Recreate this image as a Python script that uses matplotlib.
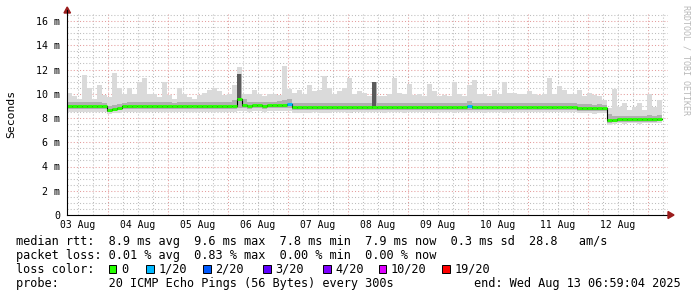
import numpy as np
import matplotlib
matplotlib.use('Agg')
import matplotlib.pyplot as plt
from matplotlib.patches import Rectangle, Polygon
from matplotlib.ticker import FuncFormatter, MultipleLocator

W, H = 697, 297
MONO = 'DejaVu Sans Mono'

# ---------------- data ----------------
bin_start_hour = 7.6      # hours after 03 Aug 00:00
bin_hours = 2.0

smoke_max = [10.05, 9.8, 9.6, 11.55, 10.5, 9.6, 10.7, 9.9, 9.7, 11.7,
             10.5, 10.0, 10.5, 10.0, 11.0, 11.3, 10.0, 10.0, 9.7, 11.0,
             9.9, 9.6, 10.5, 10.0, 9.7, 9.6, 9.9, 10.1, 10.3, 10.5,
             10.2, 9.9, 10.0, 10.7, 12.2, 10.0, 10.0, 10.3, 10.0, 9.8,
             10.0, 10.0, 9.9, 12.3, 10.4, 10.1, 10.3, 10.0, 10.7, 10.2,
             10.3, 11.5, 10.5, 10.0, 10.2, 10.5, 11.3, 10.0, 10.2, 10.1,
             9.8, 11.0, 9.8, 9.8, 10.0, 11.3, 10.1, 10.0, 10.8, 9.9,
             10.0, 9.8, 10.8, 10.2, 9.8, 9.9, 9.8, 11.0, 10.0, 9.8,
             10.7, 11.1, 10.0, 10.0, 9.8, 10.3, 10.0, 11.0, 10.1, 10.1,
             10.0, 10.0, 10.2, 10.0, 9.9, 10.0, 11.3, 10.0, 10.6, 10.3,
             10.0, 10.0, 10.3, 9.8, 10.1, 9.9, 9.8, 9.5, 8.8, 10.4,
             8.9, 9.2, 8.7, 8.9, 9.2, 8.7, 10.0, 8.9, 9.5]

smoke_p75 = [9.3, 9.3, 9.28, 9.35, 9.3, 9.28, 9.32, 9.27, 9.0, 9.05,
             9.15, 9.25, 9.3, 9.3, 9.35, 9.35, 9.3, 9.28, 9.3, 9.32,
             9.3, 9.27, 9.3, 9.3, 9.3, 9.32, 9.3, 9.3, 9.32, 9.3,
             9.3, 9.3, 9.3, 9.5, 11.6, 9.6, 9.35, 9.35, 9.35, 9.33,
             9.35, 9.35, 9.38, 9.5, 9.6, 9.25, 9.22, 9.2, 9.25, 9.22,
             9.2, 9.25, 9.22, 9.22, 9.22, 9.25, 9.25, 9.22, 9.22, 9.22,
             9.22, 11.0, 9.22, 9.2, 9.22, 9.25, 9.22, 9.2, 9.25, 9.22,
             9.22, 9.22, 9.25, 9.2, 9.22, 9.22, 9.22, 9.25, 9.22, 9.22,
             9.4, 9.25, 9.22, 9.2, 9.22, 9.22, 9.22, 9.25, 9.22, 9.22,
             9.23, 9.23, 9.22, 9.23, 9.22, 9.23, 9.25, 9.22, 9.25, 9.23,
             9.23, 9.23, 9.12, 9.12, 9.12, 9.1, 9.12, 9.1, 8.3, 8.2,
             8.2, 8.18, 8.2, 8.2, 8.18, 8.2, 8.22, 8.2, 8.22]

median = [9.0, 9.0, 8.98, 9.0, 9.0, 8.98, 9.0, 8.97, 8.65, 8.72,
          8.85, 8.95, 9.0, 9.0, 9.02, 9.0, 9.0, 8.98, 9.0, 9.0,
          9.0, 8.97, 9.0, 9.0, 9.0, 9.02, 9.0, 9.0, 9.0, 8.98,
          9.0, 9.0, 9.0, 9.02, 9.6, 9.05, 9.03, 9.05, 9.05, 9.03,
          9.05, 9.05, 9.08, 9.08, 9.12, 8.9, 8.9, 8.88, 8.9, 8.92,
          8.9, 8.88, 8.9, 8.92, 8.92, 8.92, 8.9, 8.92, 8.92, 8.92,
          8.92, 8.92, 8.92, 8.9, 8.92, 8.92, 8.92, 8.9, 8.92, 8.92,
          8.92, 8.92, 8.92, 8.9, 8.92, 8.92, 8.92, 8.9, 8.92, 8.92,
          8.95, 8.92, 8.92, 8.9, 8.92, 8.92, 8.92, 8.9, 8.92, 8.92,
          8.93, 8.93, 8.92, 8.93, 8.92, 8.93, 8.93, 8.92, 8.93, 8.93,
          8.93, 8.93, 8.82, 8.82, 8.82, 8.8, 8.82, 8.82, 7.82, 7.85,
          7.9, 7.88, 7.9, 7.9, 7.88, 7.9, 7.9, 7.9, 7.92]

smoke_p25 = [8.75, 8.75, 8.73, 8.75, 8.75, 8.73, 8.75, 8.72, 8.5, 8.55,
             8.65, 8.72, 8.75, 8.75, 8.77, 8.75, 8.75, 8.73, 8.75, 8.75,
             8.75, 8.72, 8.75, 8.75, 8.75, 8.77, 8.75, 8.75, 8.75, 8.73,
             8.75, 8.75, 8.75, 8.77, 8.85, 8.8, 8.78, 8.8, 8.8, 8.78,
             8.8, 8.8, 8.82, 8.82, 8.85, 8.67, 8.67, 8.65, 8.67, 8.68,
             8.67, 8.65, 8.67, 8.68, 8.68, 8.68, 8.67, 8.68, 8.68, 8.68,
             8.68, 8.68, 8.68, 8.67, 8.68, 8.68, 8.68, 8.67, 8.68, 8.68,
             8.68, 8.68, 8.68, 8.67, 8.68, 8.68, 8.68, 8.67, 8.68, 8.68,
             8.7, 8.68, 8.68, 8.67, 8.68, 8.68, 8.68, 8.67, 8.68, 8.68,
             8.69, 8.69, 8.68, 8.69, 8.68, 8.69, 8.69, 8.68, 8.69, 8.69,
             8.69, 8.69, 8.6, 8.6, 8.6, 8.58, 8.6, 8.6, 7.62, 7.65,
             7.7, 7.68, 7.7, 7.7, 7.68, 7.7, 7.7, 7.7, 7.72]

smoke_min = [8.5, 8.5, 8.48, 8.5, 8.5, 8.48, 8.5, 8.47, 8.35, 8.38,
             8.42, 8.48, 8.5, 8.5, 8.52, 8.5, 8.5, 8.48, 8.5, 8.5,
             8.5, 8.47, 8.5, 8.5, 8.5, 8.52, 8.5, 8.5, 8.5, 8.48,
             8.5, 8.5, 8.5, 8.52, 8.55, 8.55, 8.53, 8.55, 8.55, 8.53,
             8.55, 8.55, 8.57, 8.57, 8.6, 8.45, 8.45, 8.43, 8.45, 8.47,
             8.45, 8.43, 8.45, 8.47, 8.47, 8.47, 8.45, 8.47, 8.47, 8.47,
             8.47, 8.47, 8.47, 8.45, 8.47, 8.47, 8.47, 8.45, 8.47, 8.47,
             8.47, 8.47, 8.47, 8.45, 8.47, 8.47, 8.47, 8.45, 8.47, 8.47,
             8.5, 8.47, 8.47, 8.45, 8.47, 8.47, 8.47, 8.45, 8.47, 8.47,
             8.48, 8.48, 8.47, 8.48, 8.47, 8.48, 8.48, 8.47, 8.48, 8.48,
             8.48, 8.48, 8.38, 8.38, 8.38, 8.35, 8.38, 8.38, 7.45, 7.5,
             7.55, 7.53, 7.55, 7.55, 7.53, 7.55, 7.55, 7.55, 7.57]

loss = [0, 0, 0, 0, 0, 0, 0, 0, 0, 0,
        0, 0, 0, 0, 0, 0, 0, 0, 0, 0,
        0, 0, 0, 0, 0, 0, 0, 0, 0, 0,
        0, 0, 0, 0, 0, 0, 0, 0, 0, 0,
        0, 0, 0, 0, 1, 0, 0, 0, 0, 0,
        0, 0, 0, 0, 0, 0, 0, 0, 0, 0,
        0, 0, 0, 0, 0, 0, 0, 0, 0, 0,
        0, 0, 0, 0, 0, 0, 0, 0, 0, 0,
        1, 0, 0, 0, 0, 0, 0, 0, 0, 0,
        0, 0, 0, 0, 0, 0, 0, 0, 0, 0,
        0, 0, 0, 0, 0, 0, 0, 0, 0, 0,
        0, 0, 0, 0, 0, 0, 0, 0, 0]

day_labels = ['03 Aug', '04 Aug', '05 Aug', '06 Aug', '07 Aug',
              '08 Aug', '09 Aug', '10 Aug', '11 Aug', '12 Aug']
y_tick_values = [0, 2, 4, 6, 8, 10, 12, 14, 16]
y_tick_labels = ['0', '2 m', '4 m', '6 m', '8 m', '10 m', '12 m', '14 m', '16 m']

loss_legend_counts = [0, 1, 2, 3, 4, 10, 19]
loss_legend_labels = ['0', '1/20', '2/20', '3/20', '4/20', '10/20', '19/20']
loss_legend_colors = ['#26ff00', '#00b8ff', '#0059ff', '#5e00ff', '#7e00ff', '#dd00ff', '#ff0000']

line1 = 'median rtt:  8.9 ms avg  9.6 ms max  7.8 ms min  7.9 ms now  0.3 ms sd  28.8   am/s'
line2 = 'packet loss: 0.01 % avg  0.83 % max  0.00 % min  0.00 % now'
line3 = 'loss color:'
line4 = 'probe:       20 ICMP Echo Pings (56 Bytes) every 300s'
end_text = 'end: Wed Aug 13 06:59:04 2025'
watermark = 'RRDTOOL / TOBI OETIKER'
y_title = 'Seconds'

# ---------------- layout helpers ----------------
def fx(x):
    return x / W

def fy(y):
    return 1 - y / H

fig = plt.figure(figsize=(W / 100, H / 100), dpi=100)
fig.patch.set_facecolor('white')

L, R, B, T = 67, 668, 215, 14
ax = fig.add_axes([fx(L), fy(B), (R - L) / W, (B - T) / H])
ax.set_facecolor('white')

n = len(median)
edges = bin_start_hour + bin_hours * np.arange(n + 1)

def ext(a):
    a = np.asarray(a, dtype=float)
    return np.append(a, a[-1])

med = np.asarray(median, dtype=float)
p75 = np.asarray(smoke_p75, dtype=float)
ax.fill_between(edges, ext(smoke_min), ext(smoke_max), step='post',
                color='#dadada', lw=0, zorder=2)
ax.fill_between(edges, ext(smoke_p25), ext(smoke_p75), step='post',
                color='#b0b0b0', lw=0, zorder=3)
# bins where most pings were high: darker smoke
dense = (p75 - med) > 1.0
ax.bar(edges[:-1][dense], (p75 - med)[dense], bottom=med[dense],
       width=bin_hours * 0.8, align='edge', color='#5a5a5a', lw=0, zorder=3.5)
ax.fill_between(edges, ext(med - 0.14), ext(med), step='post',
                color='#6a6a6a', lw=0, zorder=4)
ax.step(edges, ext(median), where='post', color='black', lw=0.8, zorder=5)
cmap = dict(zip(loss_legend_counts, loss_legend_colors))
ax.hlines(median, edges[:-1], edges[1:], colors=[cmap[v] for v in loss],
          lw=2.1, zorder=6)

ax.set_xlim(bin_start_hour, bin_start_hour + (R - L) * 0.4)
ax.set_ylim(0, (B - T) / 12.125)

# grid
dot = (0, (1, 2))
ax.yaxis.set_minor_locator(MultipleLocator(0.5))
ax.set_yticks(y_tick_values)
ax.set_yticklabels(y_tick_labels)
ax.xaxis.set_major_locator(MultipleLocator(24))
ax.xaxis.set_minor_locator(MultipleLocator(6))
ax.xaxis.set_major_formatter(FuncFormatter(lambda v, p: ''))

def day_fmt(v, p):
    h = int(round(v))
    if h % 24 == 12:
        i = h // 24
        if 0 <= i < len(day_labels):
            return day_labels[i]
    return ''

ax.xaxis.set_minor_formatter(FuncFormatter(day_fmt))

ax.grid(which='major', color='#e49c9c', lw=0.75, linestyle=dot, zorder=1)
ax.grid(which='minor', color='#bdbdbd', lw=0.75, linestyle=dot, zorder=1)
ax.set_axisbelow(True)

ax.tick_params(which='both', length=0)
ax.tick_params(axis='y', pad=5, labelsize=7.2)
ax.tick_params(axis='x', which='minor', pad=3.5, labelsize=7)
for lab in ax.get_yticklabels() + ax.get_xticklabels(which='both'):
    lab.set_family(MONO)

for s in ['top', 'right']:
    ax.spines[s].set_visible(False)
for s in ['left', 'bottom']:
    ax.spines[s].set_color('black')
    ax.spines[s].set_linewidth(0.8)
    ax.spines[s].set_zorder(7)

fig.text(fx(11), fy(114), y_title, rotation=90, va='center', ha='center',
         family=MONO, fontsize=8.2)

# arrows
arrow_col = '#9b1c1c'
fig.add_artist(plt.Line2D([fx(L), fx(L)], [fy(T), fy(10)], color='black', lw=0.8))
fig.add_artist(Polygon([(fx(64), fy(13)), (fx(70.5), fy(13)), (fx(67.2), fy(7))],
                       closed=True, transform=fig.transFigure, color=arrow_col))
fig.add_artist(Polygon([(fx(668), fy(211.5)), (fx(668), fy(218.5)), (fx(674), fy(215))],
                       closed=True, transform=fig.transFigure, color=arrow_col))

# watermark
fig.text(fx(686), fy(5), watermark, rotation=270, va='top', ha='center',
         family=MONO, fontsize=6, color='#b8b8b8')

# bottom legend text
fs = 8.55
fig.text(fx(16), fy(245), line1, family=MONO, fontsize=fs, va='baseline')
fig.text(fx(16), fy(259), line2, family=MONO, fontsize=fs, va='baseline')
fig.text(fx(16), fy(273), line3, family=MONO, fontsize=fs, va='baseline')
fig.text(fx(16), fy(287), line4, family=MONO, fontsize=fs, va='baseline')
fig.text(fx(681), fy(287), end_text, family=MONO, fontsize=fs, va='baseline', ha='right')

sq_left = [108.5, 146, 203, 263, 323, 378.5, 442]
for xl, lab, col in zip(sq_left, loss_legend_labels, loss_legend_colors):
    fig.add_artist(Rectangle((fx(xl), fy(273)), 7.5 / W, 8 / H,
                             transform=fig.transFigure, facecolor=col,
                             edgecolor='black', lw=0.7))
    fig.text(fx(xl + 12.5), fy(273), lab, family=MONO, fontsize=fs, va='baseline')

fig.savefig('out.png', dpi=100, facecolor='white')
